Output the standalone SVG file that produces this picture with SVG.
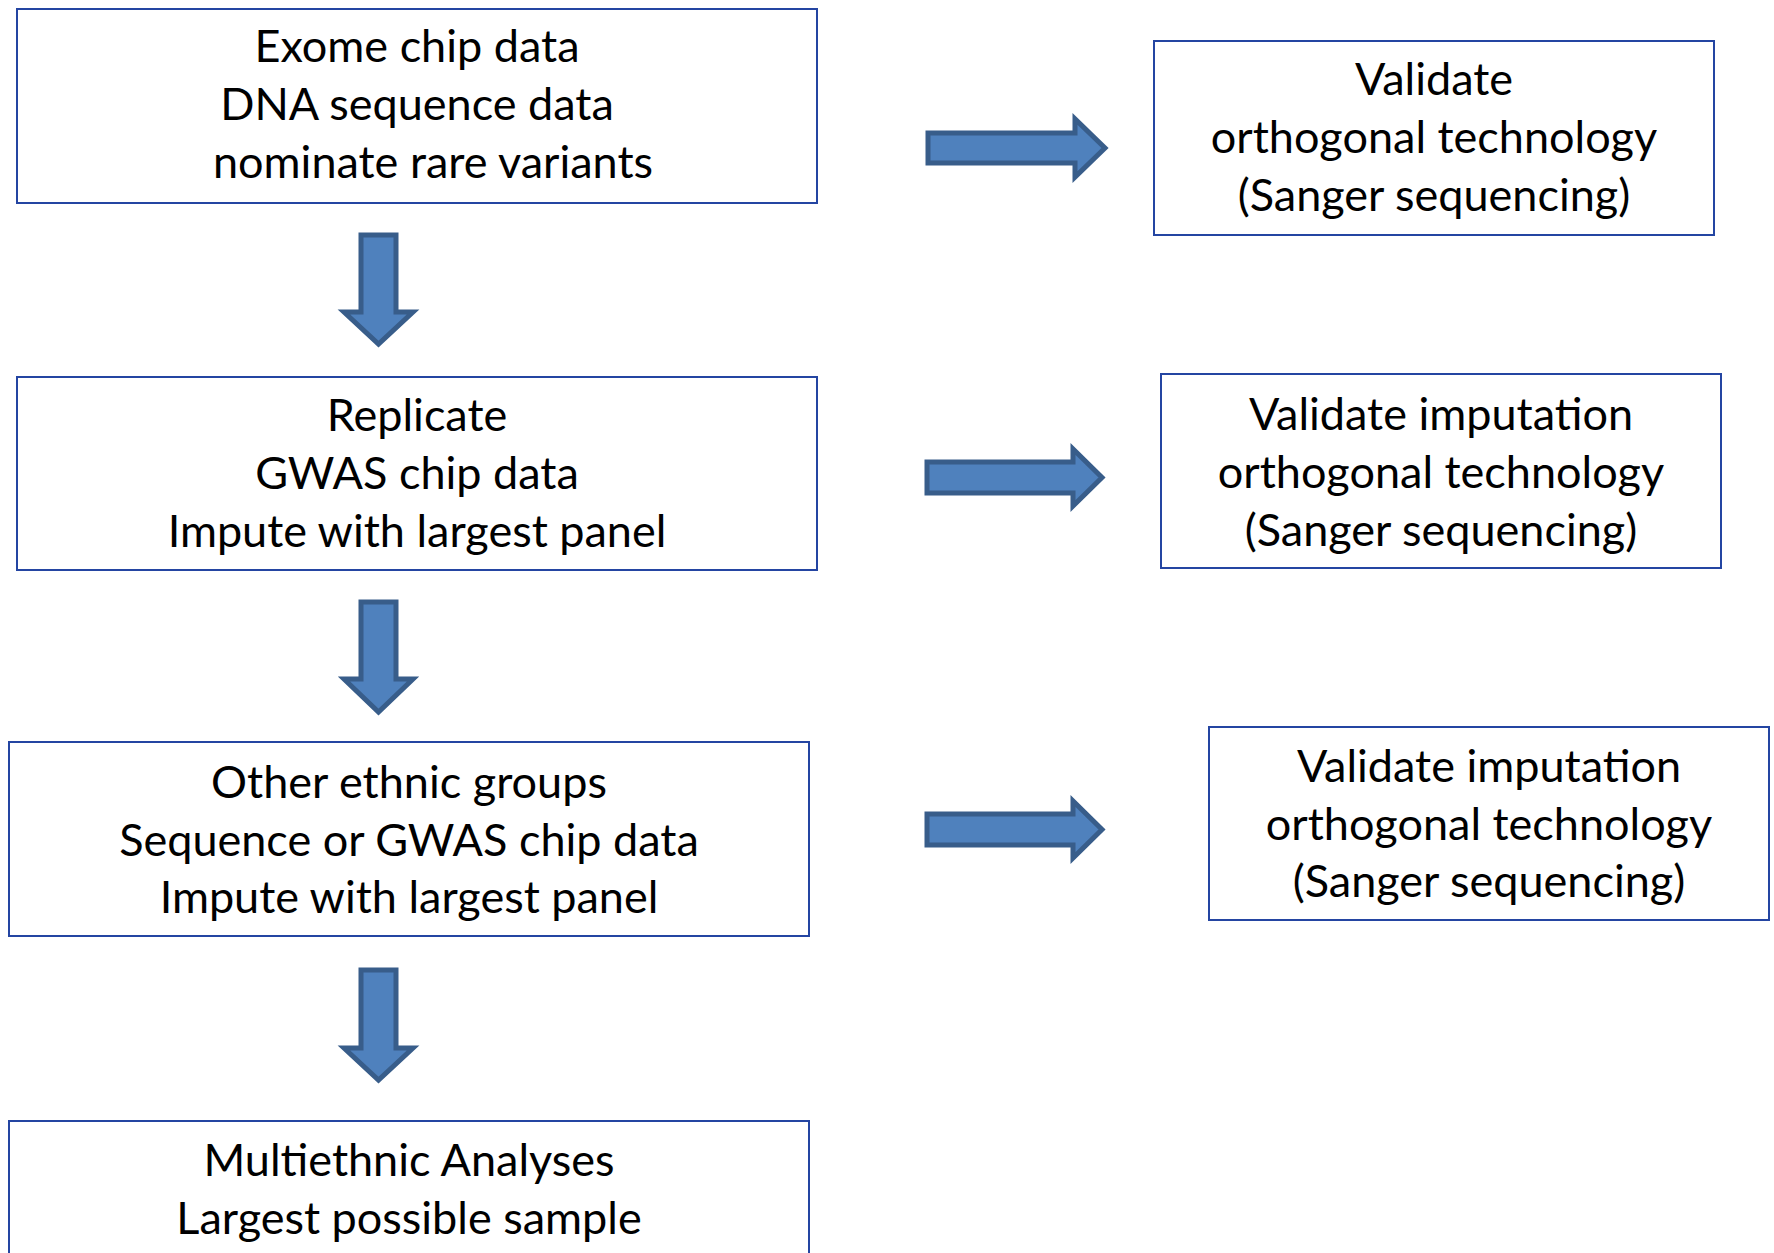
<svg xmlns="http://www.w3.org/2000/svg" width="1774" height="1253" viewBox="0 0 1774 1253">
<style>
.box{fill:#ffffff;stroke:#2445a2;stroke-width:2}
.arr{fill:#4f81bd;stroke:#385d8a;stroke-width:5;stroke-linejoin:miter}
text{font-family:Lato,"Open Sans","Liberation Sans",sans-serif;font-size:45px;fill:#000;text-anchor:middle}
</style>
<rect width="1774" height="1253" fill="#ffffff"/>
<g id="n1">
<rect class="box" x="17" y="9" width="800" height="194"/>
<text x="417" y="62">Exome chip data</text>
<text x="417" y="120">DNA sequence data</text>
<text x="433" y="178">nominate rare variants</text>
</g>
<g id="r1">
<rect class="box" x="1154" y="41" width="560" height="194"/>
<text x="1434" y="95">Validate</text>
<text x="1434" y="153">orthogonal technology</text>
<text x="1434" y="211">(Sanger sequencing)</text>
</g>
<g id="n2">
<rect class="box" x="17" y="377" width="800" height="193"/>
<text x="417" y="431">Replicate</text>
<text x="417" y="489">GWAS chip data</text>
<text x="417" y="547">Impute with largest panel</text>
</g>
<g id="r2">
<rect class="box" x="1161" y="374" width="560" height="194"/>
<text x="1441" y="430">Validate imputation</text>
<text x="1441" y="488">orthogonal technology</text>
<text x="1441" y="546">(Sanger sequencing)</text>
</g>
<g id="n3">
<rect class="box" x="9" y="742" width="800" height="194"/>
<text x="409" y="798">Other ethnic groups</text>
<text x="409" y="856">Sequence or GWAS chip data</text>
<text x="409" y="913">Impute with largest panel</text>
</g>
<g id="r3">
<rect class="box" x="1209" y="727" width="560" height="193"/>
<text x="1489" y="782">Validate imputation</text>
<text x="1489" y="840">orthogonal technology</text>
<text x="1489" y="897">(Sanger sequencing)</text>
</g>
<g id="n4">
<rect class="box" x="9" y="1121" width="800" height="160"/>
<text x="409" y="1176">Multiethnic Analyses</text>
<text x="409" y="1234">Largest possible sample</text>
</g>
<g id="connectors">
<path class="arr" d="M361,235 H396 V312 H413 L378.5,344 L344,312 H361 Z"/>
<path class="arr" d="M361,602 H396 V679 H413 L378.5,712 L344,679 H361 Z"/>
<path class="arr" d="M361,970 H396 V1048 H413 L378.5,1080 L344,1048 H361 Z"/>
<path class="arr" d="M928,133 V163 H1075 V177 L1105,148 L1075,119 V133 Z"/>
<path class="arr" d="M927,462 V493 H1073 V506 L1102,477.5 L1073,449 V462 Z"/>
<path class="arr" d="M927,814 V845 H1073 V858 L1102,829.5 L1073,801 V814 Z"/>
</g>
</svg>
